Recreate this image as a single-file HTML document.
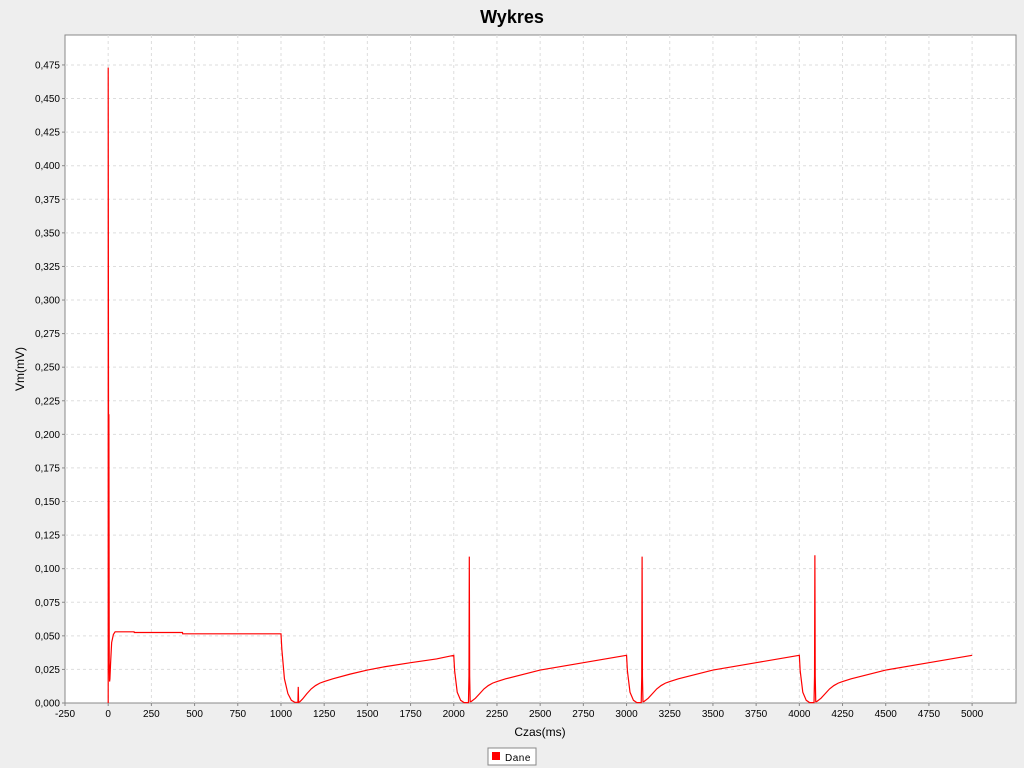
<!DOCTYPE html>
<html><head><meta charset="utf-8">
<style>
body{margin:0;background:#eeeeee;font-family:"Liberation Sans",sans-serif;}
svg{display:block}
</style></head>
<body>
<svg id="chart" width="1024" height="768" xmlns="http://www.w3.org/2000/svg">
<rect x="0" y="0" width="1024" height="768" fill="#eeeeee"/>
<text x="512" y="23" text-anchor="middle" font-size="18" font-weight="bold" fill="#000">Wykres</text>
<rect x="65" y="35" width="951" height="668" fill="#fff" stroke="#888" stroke-width="1"/>
<g id="grid"></g>
<g id="axes"></g>
<g id="series"></g>
<text x="540" y="736" text-anchor="middle" font-size="12">Czas(ms)</text>
<text transform="translate(24,369) rotate(-90)" text-anchor="middle" font-size="12">Vm(mV)</text>
<g>
<rect x="488" y="748" width="48" height="17" fill="#fff" stroke="#888"/>
<rect x="492" y="752" width="8" height="8" fill="#ff0000"/>
<text x="505" y="761" font-size="10" letter-spacing="0.5">Dane</text>
</g>
</svg>
<script>
const xTicks = [-250,0,250,500,750,1000,1250,1500,1750,2000,2250,2500,2750,3000,3250,3500,3750,4000,4250,4500,4750,5000];
const yTicks = [0,0.025,0.05,0.075,0.1,0.125,0.15,0.175,0.2,0.225,0.25,0.275,0.3,0.325,0.35,0.375,0.4,0.425,0.45,0.475];
const times = [0,0,2,4,6,8,10,14,20,30,40,60,150,151,430,431,1000,1005,1020,1040,1060,1080,1098,1100,1102,1110,1125,1150,1175,1200,1225,1250,1300,1400,1500,1600,1750,1900,2000,2005,2020,2040,2060,2085,2088,2090,2092,2095,2100,2125,2150,2175,2200,2225,2250,2300,2500,2750,3000,3005,3020,3040,3060,3085,3088,3090,3092,3095,3100,3125,3150,3175,3200,3225,3250,3300,3500,3750,4000,4005,4020,4040,4060,4085,4088,4090,4092,4095,4100,4125,4150,4175,4200,4225,4250,4300,4500,4750,5000];
const volts = [0,0.473,0.20,0.215,0.03,0.016,0.018,0.03,0.045,0.051,0.053,0.053,0.053,0.0525,0.0525,0.0515,0.0515,0.04,0.018,0.007,0.002,0.0005,0.0005,0.012,0.0005,0.001,0.003,0.007,0.0105,0.013,0.0148,0.016,0.018,0.0215,0.0245,0.027,0.030,0.0328,0.0355,0.024,0.008,0.002,0.0003,0.0003,0.02,0.109,0.02,0.001,0.001,0.0035,0.007,0.0105,0.013,0.0148,0.016,0.018,0.0245,0.030,0.0355,0.024,0.008,0.002,0.0003,0.0003,0.02,0.109,0.02,0.001,0.001,0.0035,0.007,0.0105,0.013,0.0148,0.016,0.018,0.0245,0.030,0.0355,0.024,0.008,0.002,0.0003,0.0003,0.02,0.110,0.02,0.001,0.001,0.0035,0.007,0.0105,0.013,0.0148,0.016,0.018,0.0245,0.030,0.0355];
const xMin=-250,xMax=5254,yMin=0,yMax=0.4973;
const L=65,R=1016,T=35,B=703;
const sx=v=>L+(v-xMin)/(xMax-xMin)*(R-L);
const sy=v=>B-(v-yMin)/(yMax-yMin)*(B-T);
const NS="http://www.w3.org/2000/svg";
const grid=document.getElementById('grid'),axes=document.getElementById('axes'),series=document.getElementById('series');
function mk(tag,attrs,parent){const e=document.createElementNS(NS,tag);for(const k in attrs)e.setAttribute(k,attrs[k]);parent.appendChild(e);return e;}
xTicks.forEach(t=>{
  const x=sx(t);
  if(x>L+1){
  const g=mk('line',{x1:x,x2:x,y1:T,y2:B,stroke:'#dddddd','stroke-dasharray':'3,3'},grid);
  
  
  }
  mk('line',{x1:x,x2:x,y1:B,y2:B+3,stroke:'#888'},axes);
  const tx=mk('text',{x:x,y:B+14,'text-anchor':'middle','font-size':'10',fill:'#000'},axes);
  tx.textContent=t;
  
  
});
yTicks.forEach(t=>{
  const y=sy(t);
  if(y<B-1){
  const g=mk('line',{x1:L,x2:R,y1:y,y2:y,stroke:'#dddddd','stroke-dasharray':'3,3'},grid);
  
  
  }
  mk('line',{x1:L-3,x2:L,y1:y,y2:y,stroke:'#888'},axes);
  const tx=mk('text',{x:L-5,y:y+3.5,'text-anchor':'end','font-size':'10',fill:'#000'},axes);
  tx.textContent=t.toFixed(3).replace('.',',');
  
  
});
const d=times.map((t,i)=>(i?'L':'M')+sx(t).toFixed(2)+','+sy(volts[i]).toFixed(2)).join('');
const p=mk('path',{d:d,fill:'none',stroke:'#ff0000','stroke-width':'1.2'},series);


</script>
</body></html>
